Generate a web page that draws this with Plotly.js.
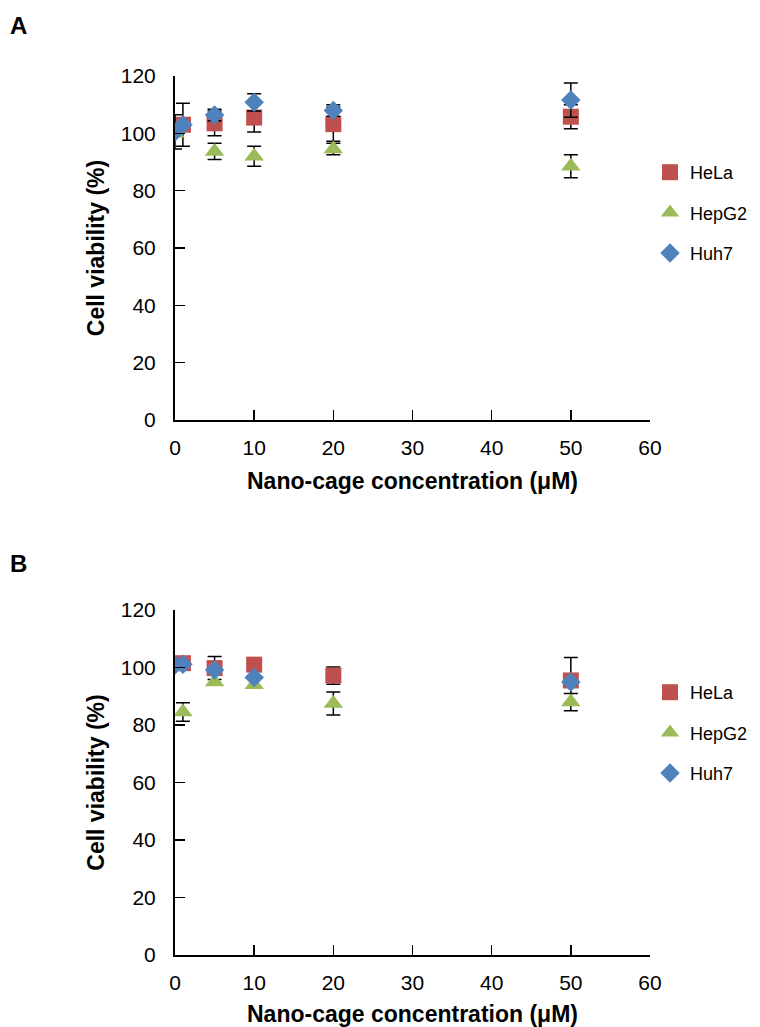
<!DOCTYPE html>
<html>
<head>
<meta charset="utf-8">
<script src="https://cdn.plot.ly/plotly-3.0.1.min.js"></script>
<style>html,body{margin:0;padding:0;background:#fff;}#chart{width:760px;height:1027px;}</style>
</head>
<body>
<div id="chart"></div>
<script>
// ---- Data (Cell viability %) ----
var seriesNames = ["HeLa", "HepG2", "Huh7"];
var xTicks = [0, 10, 20, 30, 40, 50, 60];
var yTicks = [0, 20, 40, 60, 80, 100, 120];

// Panel A
var helaA_x = [1, 5, 10, 20, 50];
var helaA_y = [103, 103.5, 105.5, 103.2, 105.8];
var helaA_err = [7.5, 4.3, 5, 6, 4.2];
var hepg2A_x = [0, 5, 10, 20, 50];
var hepg2A_y = [100, 93.7, 92, 94.5, 88.5];
var hepg2A_err = [null, 2.8, 3.5, 2, 4];
var huh7A_x = [0, 1, 5, 10, 20, 50];
var huh7A_y = [100.5, 103, 106.4, 110.8, 108, 111.6];
var huh7A_err = [6, null, 2, 3, 2, 6];

// Panel B
var helaB_x = [1, 5, 10, 20, 50];
var helaB_y = [101.5, 99.8, 101, 97.2, 95.5];
var helaB_err = [null, 4, null, 3, 8];
var hepg2B_x = [0, 1, 5, 10, 20, 50];
var hepg2B_y = [100.3, 84.5, 95, 94, 87.5, 88];
var hepg2B_err = [null, 3.2, null, null, 4, 3];
var huh7B_x = [0, 1, 5, 10, 50];
var huh7B_y = [100.9, 101.1, 99.1, 96.5, 95];
var huh7B_err = [null, null, null, null, null];

// ---- Styles ----
var colors = {HeLa: "#C0504D", HepG2: "#9BBB59", Huh7: "#4F81BD"};
var symbols = {HeLa: "square", HepG2: "triangle-up", Huh7: "diamond"};
var sizes = {HeLa: 16, HepG2: 17, Huh7: 15};
var FONT = "Liberation Sans, Arial, sans-serif";

function clean(a) { return a.map(function (v) { return v === null ? NaN : v; }); }

function mk(name, xs, ys, errs, xa, ya, leg) {
  return {
    type: "scatter", mode: "markers", name: name,
    x: xs, y: ys, xaxis: xa, yaxis: ya, legend: leg,
    legendgroup: name + leg,
    marker: {symbol: symbols[name], color: colors[name], size: sizes[name], line: {width: 0}},
    error_y: {type: "data", array: clean(errs), visible: true, color: "#000", thickness: 1.5, width: 7}
  };
}

var data = [
  mk("HeLa", helaA_x, helaA_y, helaA_err, "x", "y", "legend"),
  mk("HepG2", hepg2A_x, hepg2A_y, hepg2A_err, "x", "y", "legend"),
  mk("Huh7", huh7A_x, huh7A_y, huh7A_err, "x", "y", "legend"),
  mk("HeLa", helaB_x, helaB_y, helaB_err, "x2", "y2", "legend2"),
  mk("HepG2", hepg2B_x, hepg2B_y, hepg2B_err, "x2", "y2", "legend2"),
  mk("Huh7", huh7B_x, huh7B_y, huh7B_err, "x2", "y2", "legend2")
];

function xax(anchor) {
  return {
    domain: [175 / 760, 650 / 760], anchor: anchor, range: [0, 60],
    tickvals: xTicks, ticktext: xTicks.map(String),
    ticks: "inside", ticklen: 10, tickwidth: 1.5, tickcolor: "#000",
    showline: true, linecolor: "#000", linewidth: 2, showgrid: false, zeroline: false,
    tickfont: {family: FONT, size: 21, color: "#000"},
    ticklabelstandoff: 8,
    title: {text: "<b>Nano-cage concentration (μM)</b>", font: {family: FONT, size: 23, color: "#000"}, standoff: 15}
  };
}
function yax(anchor, top, bottom) {
  return {
    domain: [1 - bottom / 1027, 1 - top / 1027], anchor: anchor, range: [0, 120],
    tickvals: yTicks, ticktext: yTicks.map(String),
    ticks: "inside", ticklen: 10, tickwidth: 1.5, tickcolor: "#000",
    showline: true, linecolor: "#000", linewidth: 2, showgrid: false, zeroline: false,
    tickfont: {family: FONT, size: 21, color: "#000"},
    ticklabelstandoff: 13,
    title: {text: "<b>Cell viability (%)</b>", font: {family: FONT, size: 23, color: "#000"}, standoff: 10}
  };
}
function leg(yTop) {
  return {
    x: 650 / 760, xanchor: "left", y: 1 - yTop / 1027, yanchor: "top",
    font: {family: FONT, size: 18, color: "#000"},
    traceorder: "grouped", tracegroupgap: 14, bgcolor: "rgba(0,0,0,0)"
  };
}

var layout = {
  width: 760, height: 1027,
  margin: {l: 0, r: 0, t: 0, b: 0},
  paper_bgcolor: "#fff", plot_bgcolor: "#fff",
  showlegend: true,
  xaxis: xax("y"), yaxis: yax("x", 76, 420),
  xaxis2: xax("y2"), yaxis2: yax("x2", 610, 955),
  legend: leg(154), legend2: leg(674),
  annotations: [
    {text: "<b>A</b>", x: 8 / 760, y: 1 - 25 / 1027, xref: "paper", yref: "paper", xanchor: "left", yanchor: "middle", showarrow: false, font: {family: FONT, size: 24, color: "#000"}},
    {text: "<b>B</b>", x: 8 / 760, y: 1 - 563 / 1027, xref: "paper", yref: "paper", xanchor: "left", yanchor: "middle", showarrow: false, font: {family: FONT, size: 24, color: "#000"}}
  ]
};

Plotly.newPlot("chart", data, layout, {staticPlot: true, displayModeBar: false});
</script>
</body>
</html>
